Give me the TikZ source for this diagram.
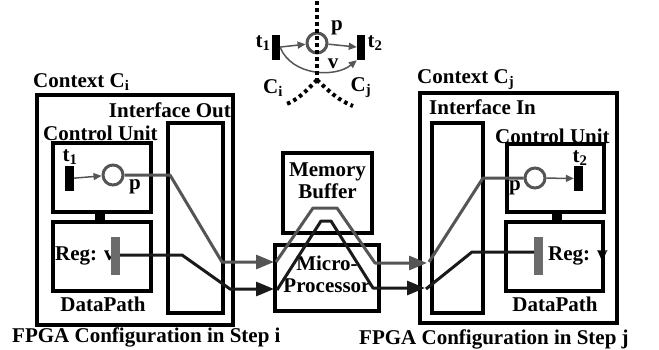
\documentclass[tikz,border=0pt]{standalone}
\usepackage{fontspec}
\setmainfont{Liberation Serif}
\usetikzlibrary{arrows.meta,fit}
\definecolor{pgray}{HTML}{555555}
\definecolor{bline}{HTML}{1A1A1A}
\definecolor{rgray}{HTML}{6B6B6B}
\begin{document}
\begin{tikzpicture}[x=1pt,y=-1pt,
  box/.style={draw=black,line width=3.5pt,inner sep=0pt},
  lbl/.style={font=\bfseries\fontsize{21}{22}\selectfont,inner sep=0pt,align=center},
  place/.style={circle,draw=pgray,line width=3pt,minimum size=20pt,inner sep=0pt},
  tbar/.style={fill=black,minimum width=9pt,minimum height=25pt,inner sep=0pt},
  regbar/.style={fill=rgray,minimum width=9pt,minimum height=38pt,inner sep=0pt},
  conn/.style={fill=black,inner sep=0pt},
  thinarrow/.style={draw=pgray,line width=1.5pt,-{Triangle[length=8pt,width=7pt]}},
  gline/.style={draw=pgray,line width=3pt,line join=round},
  kline/.style={draw=bline,line width=3pt,line join=round},
  bigarrow/.style={-{Triangle[length=18pt,width=14pt]}},
  dotline/.style={draw=black,line width=4pt,dash pattern=on 3.5pt off 3.5pt}]
\useasboundingbox (0,0) rectangle (659,349);

% ---------- left context ----------
\node[box,fit={(37,95) (233,325)}] (ctxi) {};
\node[box,fit={(168,123) (223,313)}] (ifout) {};
\node[box,fit={(53,143) (151,212)}] (cui) {};
\node[box,fit={(53,222) (151,291)}] (dpi) {};
\node[conn,fit={(95,214) (105,220)}] (conni) {};
\node[lbl,anchor=west] (lctxi) at (33,82) {Context C\textsubscript{i}};
\node[lbl,anchor=east] (lifout) at (231,110) {Interface Out};
\node[lbl,anchor=west] (lcui) at (43,133) {Control Unit};
\node[lbl] (ldpi) at (103,304) {DataPath};
\node[lbl,anchor=west] (lstepi) at (12,337) {FPGA Configuration in Step i};
\node[tbar] (t1i) at (69.5,178.5) {};
\node[lbl] (lt1i) at (70,157) {t\textsubscript{1}};
\node[place] (pi) at (113,175) {};
\node[lbl] (lpi) at (135,187) {p};
\draw[thinarrow] (t1i) -- (pi);
\node[lbl,anchor=west] (lregi) at (55,256) {Reg: v};
\node[regbar] (ri) at (115.5,256) {};

% ---------- middle ----------
\node[box,fit={(283,153) (372,233)}] (mem) {};
\node[box,fit={(275,245) (379,311)}] (mp) {};
\node[lbl] (lmem) at (327.5,181) {Memory\\Buffer};
\node[lbl] (lmp) at (327,274) {Micro-\\Processor};

% ---------- right context ----------
\node[box,fit={(420,93) (617,323)}] (ctxj) {};
\node[box,fit={(432,123) (483,313)}] (ifin) {};
\node[box,fit={(507,144) (604,212)}] (cuj) {};
\node[box,fit={(506,222) (603,291)}] (dpj) {};
\node[conn,fit={(552,214) (562,220)}] (connj) {};
\node[lbl,anchor=west] (lctxj) at (417,80) {Context C\textsubscript{j}};
\node[lbl,anchor=west] (lifin) at (429,107) {Interface In};
\node[lbl,anchor=west] (lcuj) at (495,136) {Control Unit};
\node[lbl] (ldpj) at (555,304) {DataPath};
\node[lbl,anchor=west] (lstepj) at (359,339) {FPGA Configuration in Step j};
\node[tbar] (t2j) at (578.5,178.5) {};
\node[lbl] (lt2j) at (580,158) {t\textsubscript{2}};
\node[place] (pj) at (535,178) {};
\node[lbl] (lpj) at (515,188) {p};
\draw[thinarrow] (pj) -- (t2j);
\node[lbl,anchor=west] (lregj) at (548,256) {Reg: v};
\node[regbar] (rj) at (538.5,256) {};

% ---------- gray path ----------
\coordinate (g1) at (170,175);
\coordinate (g2) at (222,262);
\coordinate (g3) at (274,262);
\coordinate (g4) at (276,262);
\coordinate (g5) at (313,208);
\coordinate (g6) at (337,208);
\coordinate (g7) at (375,263);
\coordinate (g8) at (427,263);
\coordinate (g9) at (429,262);
\coordinate (g10) at (483,178);
\draw[gline,bigarrow] (pi.east) -- (g1) -- (g2) -- (g3);
\draw[gline,bigarrow] (g4) -- (g5) -- (g6) -- (g7) -- (g8);
\draw[gline] (g9) -- (g10) -- (pj.west);

% ---------- black path ----------
\coordinate (k1) at (182,255);
\coordinate (k2) at (230,289);
\coordinate (k3) at (274,289);
\coordinate (k4) at (277,290);
\coordinate (k5) at (321,221);
\coordinate (k6) at (331,221);
\coordinate (k7) at (373,288);
\coordinate (k8) at (425,288);
\coordinate (k9) at (426,289);
\coordinate (k10) at (472,252);
\coordinate (k11) at (534,252);
\draw[kline,bigarrow] (ri.east |- k1) -- (k1) -- (k2) -- (k3);
\draw[kline,bigarrow] (k4) -- (k5) -- (k6) -- (k7) -- (k8);
\draw[kline] (k9) -- (k10) -- (k11);

% ---------- top mini diagram ----------
\node[tbar,minimum width=8pt] (t1m) at (276,47.5) {};
\node[place] (pm) at (317,43) {};
\node[tbar,minimum width=8pt] (t2m) at (361,47.5) {};
\node[lbl] (lt1m) at (263,43) {t\textsubscript{1}};
\node[lbl] (lt2m) at (375,43) {t\textsubscript{2}};
\node[lbl] (lpm) at (337,28) {p};
\node[lbl] (lvm) at (333,64) {v};
\draw[thinarrow] (t1m) -- (pm);
\draw[thinarrow] (pm) -- (t2m);
\draw[thinarrow] (t1m.east) .. controls (292,76) and (335,78) .. (t2m.south west);
\coordinate (dtop) at (317,1);
\coordinate (djoin) at (317,80);
\coordinate (dleft) at (284,105);
\coordinate (dright) at (353,106);
\draw[dotline] (dtop) -- (djoin);
\draw[dotline] (djoin) .. controls (305,92) and (298,100) .. (dleft);
\draw[dotline] (djoin) .. controls (330,92) and (338,100) .. (dright);
\node[lbl] (lcim) at (273,88) {C\textsubscript{i}};
\node[lbl] (lcjm) at (361,88) {C\textsubscript{j}};
\end{tikzpicture}
\end{document}
